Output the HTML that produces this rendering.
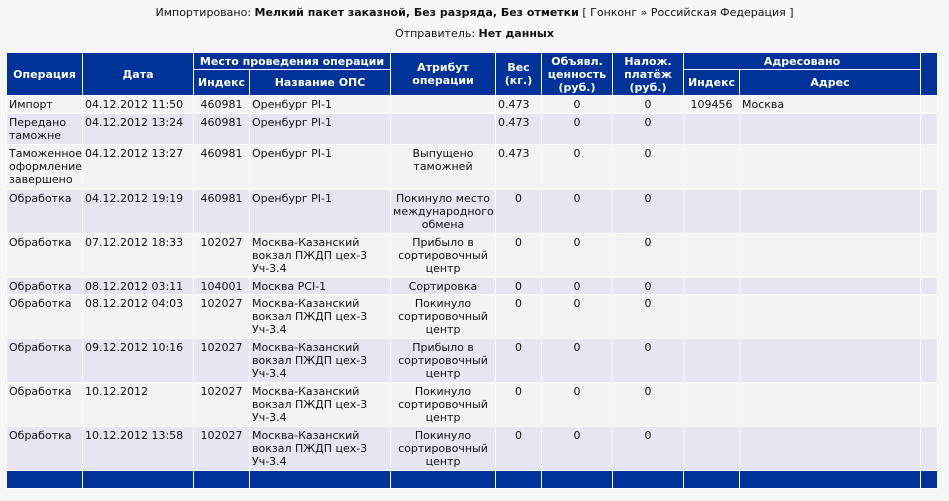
<!DOCTYPE html>
<html><head><meta charset="utf-8"><style>
body{margin:0;background:#f7f7f7;width:949px;height:501px;overflow:hidden;font-family:"DejaVu Sans","Liberation Sans",sans-serif;font-size:11px;color:#111;}
.t1{position:absolute;top:6px;left:0;width:949px;text-align:center;line-height:14px;}
.t2{position:absolute;top:27px;left:0;width:949px;text-align:center;line-height:14px;}
table{position:absolute;left:6px;top:52px;border-collapse:collapse;table-layout:fixed;width:931px;}
td,th{border:1px solid #fff;padding:2px 2px 0 2px;vertical-align:top;line-height:13px;font-size:11px;overflow:hidden;white-space:normal;}
th{background:#003399;color:#fff;font-weight:bold;vertical-align:middle;text-align:center;padding:0 2px;}
tr.l td{background:#f3f3f3}
tr.d td{background:#e6e6f2}
.c{text-align:center}
.f td{background:#003399;height:17px;padding:0}
</style></head><body>
<div class="t1">Импортировано: <b>Мелкий пакет заказной, Без разряда, Без отметки</b> [ Гонконг » Российская Федерация ]</div>
<div class="t2">Отправитель: <b>Нет данных</b></div>
<table>
<colgroup><col style="width:76px"><col style="width:111px"><col style="width:56px"><col style="width:141px"><col style="width:105px"><col style="width:46px"><col style="width:71px"><col style="width:71px"><col style="width:56px"><col style="width:181px"><col style="width:17px"></colgroup>
<tr style="height:17px"><th rowspan="2">Операция</th><th rowspan="2">Дата</th><th colspan="2">Место проведения операции</th><th rowspan="2">Атрибут<br>операции</th><th rowspan="2">Вес<br>(кг.)</th><th rowspan="2">Объявл.<br>ценность<br>(руб.)</th><th rowspan="2">Налож.<br>платёж<br>(руб.)</th><th colspan="2">Адресовано</th><th rowspan="2"></th></tr>
<tr style="height:26px"><th>Индекс</th><th>Название ОПС</th><th>Индекс</th><th>Адрес</th></tr>
<tr class="l" style="height:18px"><td>Импорт</td><td>04.12.2012 11:50</td><td class="c">460981</td><td>Оренбург PI-1</td><td class="c"></td><td>0.473</td><td class="c">0</td><td class="c">0</td><td class="c">109456</td><td>Москва</td><td></td></tr>
<tr class="d" style="height:31px"><td>Передано таможне</td><td>04.12.2012 13:24</td><td class="c">460981</td><td>Оренбург PI-1</td><td class="c"></td><td>0.473</td><td class="c">0</td><td class="c">0</td><td></td><td></td><td></td></tr>
<tr class="l" style="height:45px"><td>Таможенное оформление завершено</td><td>04.12.2012 13:27</td><td class="c">460981</td><td>Оренбург PI-1</td><td class="c">Выпущено таможней</td><td>0.473</td><td class="c">0</td><td class="c">0</td><td></td><td></td><td></td></tr>
<tr class="d" style="height:44px"><td>Обработка</td><td>04.12.2012 19:19</td><td class="c">460981</td><td>Оренбург PI-1</td><td class="c">Покинуло место международного обмена</td><td class="c">0</td><td class="c">0</td><td class="c">0</td><td></td><td></td><td></td></tr>
<tr class="l" style="height:44px"><td>Обработка</td><td>07.12.2012 18:33</td><td class="c">102027</td><td>Москва-Казанский вокзал ПЖДП цех-3 Уч-3.4</td><td class="c">Прибыло в сортировочный центр</td><td class="c">0</td><td class="c">0</td><td class="c">0</td><td></td><td></td><td></td></tr>
<tr class="d" style="height:17px"><td>Обработка</td><td>08.12.2012 03:11</td><td class="c">104001</td><td>Москва PCI-1</td><td class="c">Сортировка</td><td class="c">0</td><td class="c">0</td><td class="c">0</td><td></td><td></td><td></td></tr>
<tr class="l" style="height:44px"><td>Обработка</td><td>08.12.2012 04:03</td><td class="c">102027</td><td>Москва-Казанский вокзал ПЖДП цех-3 Уч-3.4</td><td class="c">Покинуло сортировочный центр</td><td class="c">0</td><td class="c">0</td><td class="c">0</td><td></td><td></td><td></td></tr>
<tr class="d" style="height:44px"><td>Обработка</td><td>09.12.2012 10:16</td><td class="c">102027</td><td>Москва-Казанский вокзал ПЖДП цех-3 Уч-3.4</td><td class="c">Прибыло в сортировочный центр</td><td class="c">0</td><td class="c">0</td><td class="c">0</td><td></td><td></td><td></td></tr>
<tr class="l" style="height:44px"><td>Обработка</td><td>10.12.2012</td><td class="c">102027</td><td>Москва-Казанский вокзал ПЖДП цех-3 Уч-3.4</td><td class="c">Покинуло сортировочный центр</td><td class="c">0</td><td class="c">0</td><td class="c">0</td><td></td><td></td><td></td></tr>
<tr class="d" style="height:44px"><td>Обработка</td><td>10.12.2012 13:58</td><td class="c">102027</td><td>Москва-Казанский вокзал ПЖДП цех-3 Уч-3.4</td><td class="c">Покинуло сортировочный центр</td><td class="c">0</td><td class="c">0</td><td class="c">0</td><td></td><td></td><td></td></tr>
<tr class="f"><td></td><td></td><td></td><td></td><td></td><td></td><td></td><td></td><td></td><td></td><td></td></tr>
</table>
</body></html>
